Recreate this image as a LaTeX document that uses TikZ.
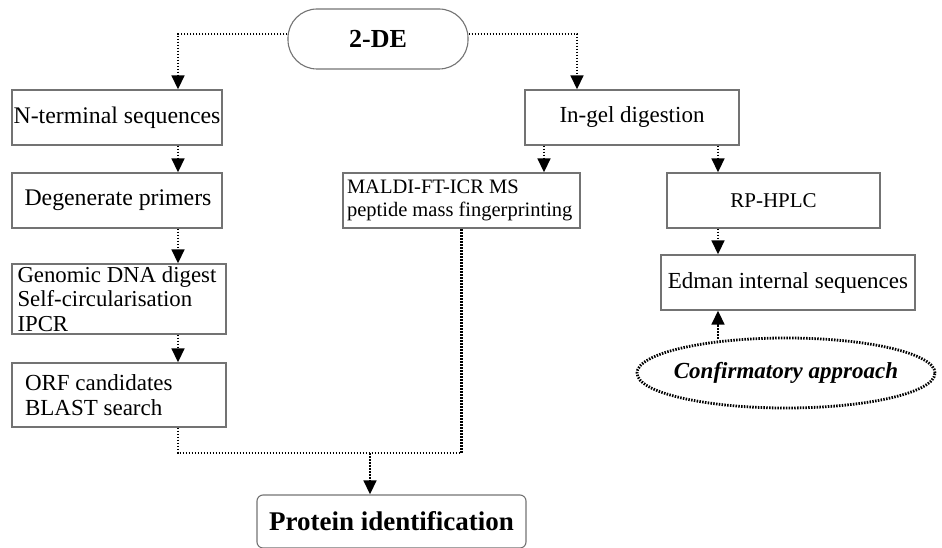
\documentclass[tikz,border=0pt]{standalone}
\usepackage{fontspec}
\setmainfont{Liberation Serif}
\usetikzlibrary{arrows.meta,shapes.geometric,shapes.misc}
\begin{document}
\begin{tikzpicture}[x=1pt,y=-1pt,
  box/.style={draw=black!55,line width=1.1pt,rectangle,inner sep=0pt,
    font=\fontsize{23}{24}\selectfont},
  lbox/.style={box,align=flush left},
  conn/.style={line width=2.8pt,dash pattern=on 1.6pt off 1.4pt,
    -{Triangle[length=14pt,width=12.5pt]}},
  plain/.style={line width=2.8pt,dash pattern=on 1.6pt off 1.4pt}]
\useasboundingbox (0,0) rectangle (942,548);

\node[box,rounded corners=29pt,minimum width=180pt,minimum height=60pt,
  font=\fontsize{26}{28}\selectfont\bfseries] (de) at (378,39) {2-DE};
\node[box,minimum width=210pt,minimum height=55pt,font=\fontsize{23.8}{24}\selectfont] (nterm) at (117,117.5) {N-terminal sequences};
\node[box,minimum width=210pt,minimum height=55pt,font=\fontsize{23.8}{24}\selectfont] (degen) at (117,200.5) {\hspace{2pt}Degenerate primers};
\node[lbox,text width=203pt,inner xsep=5.5pt,minimum height=70pt,
  font=\fontsize{22.8}{24.5}\selectfont] (genomic) at (119,299)
  {Genomic DNA digest\\Self-circularisation\\IPCR};
\node[lbox,text width=188pt,inner xsep=13pt,minimum height=64pt,
  font=\fontsize{23}{25}\selectfont] (orf) at (119,395)
  {ORF candidates\\BLAST search};
\node[lbox,text width=229pt,inner xsep=4pt,minimum height=55pt,
  font=\fontsize{20.5}{23}\selectfont] (maldi) at (461.5,200.5)
  {MALDI-FT-ICR MS\\peptide mass fingerprinting};
\node[box,minimum width=214pt,minimum height=55pt] (ingel) at (632,117.5) {In-gel digestion};
\node[box,minimum width=213pt,minimum height=55pt,font=\fontsize{21}{22}\selectfont] (rphplc) at (773.5,200.5) {RP-HPLC};
\node[box,minimum width=254pt,minimum height=55pt] (edman) at (788,282.5) {Edman internal sequences};
\node[ellipse,draw,line width=2.8pt,dash pattern=on 1.5pt off 1.3pt,
  minimum width=298pt,minimum height=70pt,inner sep=0pt,
  label={[font=\fontsize{23}{24}\selectfont\bfseries\itshape]center:Confirmatory approach}] (conf) at (786,373) {};
\node[box,rounded corners=6pt,minimum width=269pt,minimum height=53pt,
  font=\fontsize{27}{29}\selectfont\bfseries] (prot) at (391.5,521.5) {Protein identification};

% left branch
\coordinate (l1) at (178,34);
\draw[conn] (de.west |- l1) -- (l1) -- (l1 |- nterm.north);
\draw[conn] (l1 |- nterm.south) -- (l1 |- degen.north);
\draw[conn] (l1 |- degen.south) -- (l1 |- genomic.north);
\draw[conn] (l1 |- genomic.south) -- (l1 |- orf.north);
% merge to protein identification
\coordinate (j1) at (461.5,453);
\coordinate (j2) at (370,453);
\draw[plain] (l1 |- orf.south) |- (j1) -- (j1 |- maldi.south);
\draw[conn] (j2) -- (j2 |- prot.north);
% right branch
\coordinate (r1) at (577,34);
\draw[conn] (de.east |- r1) -- (r1) -- (r1 |- ingel.north);
\coordinate (r2) at (544,145);
\draw[conn] (r2 |- ingel.south) -- (r2 |- maldi.north);
\coordinate (r3) at (718,145);
\draw[conn] (r3 |- ingel.south) -- (r3 |- rphplc.north);
\draw[conn] (r3 |- rphplc.south) -- (r3 |- edman.north);
\coordinate (c1) at (718,339);
\draw[conn] (c1) -- (c1 |- edman.south);
\end{tikzpicture}
\end{document}
